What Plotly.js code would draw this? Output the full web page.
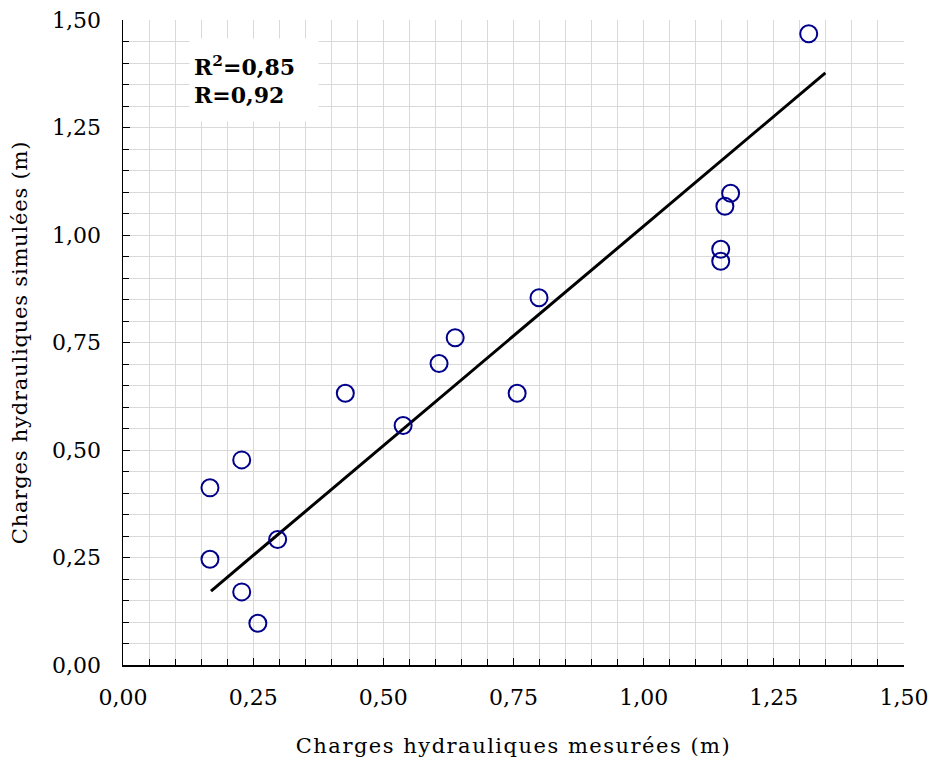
<!DOCTYPE html>
<html>
<head>
<meta charset="utf-8">
<script src="https://cdn.plot.ly/plotly-3.0.1.min.js"></script>
<style>
  body { margin: 0; padding: 0; background: #fff; }
  #chart { width: 933px; height: 766px; }
  .xtitle { letter-spacing: 1.5px; }
  .ytitle { letter-spacing: 0.8px; }
</style>
</head>
<body>
<div id="chart"></div>
<script>
// Measured vs simulated hydraulic heads (m)
const measured = [0.167, 0.167, 0.228, 0.228, 0.259, 0.297, 0.427, 0.538, 0.607, 0.638, 0.757, 0.799, 1.148, 1.148, 1.156, 1.167, 1.317];
const simulated = [0.412, 0.246, 0.477, 0.170, 0.097, 0.292, 0.632, 0.557, 0.701, 0.761, 0.632, 0.854, 0.967, 0.939, 1.067, 1.097, 1.468];
// Regression line end points
const fitX = [0.169, 1.349];
const fitY = [0.172, 1.377];
const tickVals = [0, 0.25, 0.5, 0.75, 1.0, 1.25, 1.5];
const tickText = ["0,00", "0,25", "0,50", "0,75", "1,00", "1,25", "1,50"];
const statsText = "<b>R<sup>2</sup>=0,85<br>R=0,92</b>";

const fontFam = "DejaVu Serif, Liberation Serif, serif";

const traces = [
  {
    x: fitX, y: fitY, mode: "lines", type: "scatter",
    line: { color: "#000000", width: 3 },
    hoverinfo: "skip", showlegend: false
  },
  {
    x: measured, y: simulated, mode: "markers", type: "scatter",
    marker: { symbol: "circle-open", size: 17, color: "#00008B", line: { width: 2, color: "#00008B" } },
    showlegend: false
  }
];

const axisCommon = {
  range: [0, 1.5],
  tickvals: tickVals,
  ticktext: tickText,
  showgrid: true,
  gridcolor: "#d9d9d9",
  gridwidth: 1,
  zeroline: false,
  showline: true,
  linecolor: "#000000",
  linewidth: 1.5,
  ticks: "inside",
  ticklen: 7,
  tickwidth: 1,
  tickcolor: "#000000",
  tickfont: { family: fontFam, size: 22, color: "#000000" },
  minor: { dtick: 0.05, tick0: 0, showgrid: true, gridcolor: "#d9d9d9", gridwidth: 1, ticks: "inside", ticklen: 6, tickcolor: "#000000", tickwidth: 1 },
  fixedrange: true
};

const layout = {
  width: 933, height: 766,
  margin: { l: 123, r: 29, t: 20, b: 101 },
  paper_bgcolor: "#ffffff",
  plot_bgcolor: "#ffffff",
  showlegend: false,
  xaxis: Object.assign({}, axisCommon, {
    ticklabelstandoff: 12,
    title: { text: "Charges hydrauliques mesurées (m)", font: { family: fontFam, size: 21, color: "#000000" }, standoff: 29 }
  }),
  yaxis: Object.assign({}, axisCommon, {
    ticklabelstandoff: 16,
    title: { text: "Charges hydrauliques simulées (m)", font: { family: fontFam, size: 21, color: "#000000" }, standoff: 19 }
  }),
  annotations: [
    {
      xref: "x", yref: "y", x: 0.126, y: 1.458,
      xanchor: "left", yanchor: "top",
      text: statsText, showarrow: false, align: "left",
      bgcolor: "#ffffff", borderpad: 4, width: 120, height: 74,
      font: { family: fontFam, size: 22, color: "#000000" }
    }
  ]
};

Plotly.newPlot("chart", traces, layout, { displayModeBar: false, staticPlot: true });
</script>
</body>
</html>
